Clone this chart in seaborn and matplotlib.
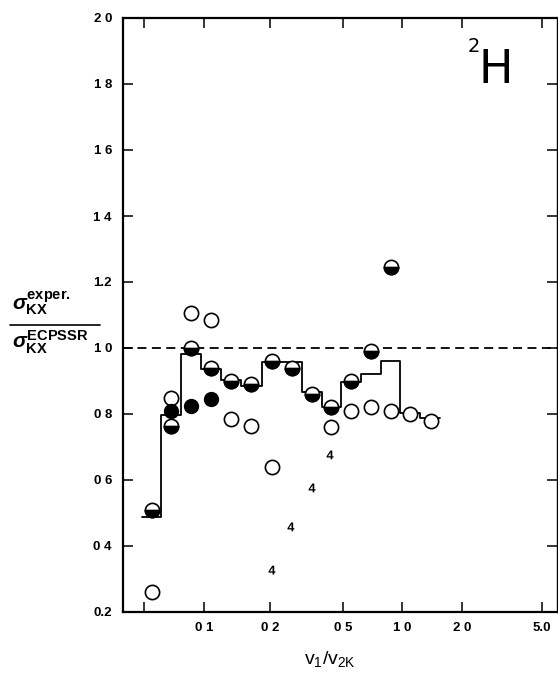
import numpy as np
import pandas as pd
import matplotlib
matplotlib.use("Agg")
import matplotlib.pyplot as plt
from matplotlib.markers import MarkerStyle
from matplotlib.lines import Line2D
from matplotlib.ticker import FixedLocator, FixedFormatter, NullFormatter
import seaborn as sns

# data ---------------------------------------------------------------
open_x = [0.0548, 0.0683, 0.0860, 0.1076, 0.1328, 0.1638, 0.205, 0.430, 0.548, 0.695, 0.879, 1.097, 1.398]
open_y = [0.26, 0.85, 1.105, 1.085, 0.785, 0.765, 0.64, 0.76, 0.81, 0.82, 0.81, 0.80, 0.78]

full_x = [0.0683, 0.0860, 0.1076]
full_y = [0.81, 0.825, 0.845]

half_x = [0.0548, 0.0683, 0.0860, 0.1076, 0.1328, 0.1638, 0.205, 0.2636, 0.339, 0.430, 0.548, 0.695, 0.879]
half_y = [0.51, 0.765, 1.0, 0.94, 0.90, 0.89, 0.96, 0.94, 0.86, 0.82, 0.90, 0.99, 1.245]

four_x = [0.205, 0.260, 0.339, 0.425]
four_y = [0.327, 0.458, 0.576, 0.676]

# ECPSSR-like step curve: bin edges and level in each bin
step_edges = [0.0488, 0.0609, 0.0767, 0.0966, 0.1196, 0.1475, 0.184, 0.299, 0.384, 0.488,
              0.618, 0.781, 0.977, 1.231, 1.551]
step_vals = [0.488, 0.797, 0.982, 0.936, 0.903, 0.885, 0.957, 0.867, 0.821, 0.897,
             0.922, 0.961, 0.803, 0.788]

xtick_vals = [0.05, 0.1, 0.2, 0.5, 1.0, 2.0, 5.0]
xtick_labels = ["", "0 1", "0 2", "0 5", "1 0", "2 0", "5.0"]
ytick_vals = [0.2, 0.4, 0.6, 0.8, 1.0, 1.2, 1.4, 1.6, 1.8, 2.0]
ytick_labels = ["0.2", "0 4", "0 6", "0 8", "1 0", "1.2", "1 4", "1 6", "1 8", "2 0"]

# the printed x axis is an uneven log axis: map log(value) -> position piecewise
LT = np.log10(xtick_vals)
LP = np.array([144, 204, 270, 343, 402, 462, 542], dtype=float)


def _fwd(x):
    x = np.asarray(x, dtype=float)
    lx = np.log10(np.where(x > 0, x, 1e-9))
    out = np.interp(lx, LT, LP)
    s0 = (LP[1] - LP[0]) / (LT[1] - LT[0])
    s1 = (LP[-1] - LP[-2]) / (LT[-1] - LT[-2])
    out = np.where(lx < LT[0], LP[0] + (lx - LT[0]) * s0, out)
    out = np.where(lx > LT[-1], LP[-1] + (lx - LT[-1]) * s1, out)
    return out


def _inv(p):
    p = np.asarray(p, dtype=float)
    out = np.interp(p, LP, LT)
    s0 = (LT[1] - LT[0]) / (LP[1] - LP[0])
    s1 = (LT[-1] - LT[-2]) / (LP[-1] - LP[-2])
    out = np.where(p < LP[0], LT[0] + (p - LP[0]) * s0, out)
    out = np.where(p > LP[-1], LT[-1] + (p - LP[-1]) * s1, out)
    return 10 ** out


# style ------------------------------------------------------------------
sns.set_theme(style="ticks")
plt.rcParams["font.family"] = ["Liberation Sans", "DejaVu Sans"]
plt.rcParams["mathtext.fontset"] = "custom"
plt.rcParams["mathtext.rm"] = "Liberation Sans:bold"
plt.rcParams["mathtext.it"] = "Liberation Sans:italic:bold"
plt.rcParams["mathtext.bf"] = "Liberation Sans:bold"
plt.rcParams["mathtext.sf"] = "Liberation Sans"

fig = plt.figure(figsize=(5.58, 6.73), dpi=100)
ax = fig.add_axes([123 / 558, 61 / 673, 434 / 558, 594 / 673])
ax.set_xscale("function", functions=(_fwd, _inv))

# plot -------------------------------------------------------------------
step_df = pd.DataFrame({"x": step_edges, "y": step_vals + [step_vals[-1]]})
sns.lineplot(data=step_df, x="x", y="y", drawstyle="steps-post", estimator=None,
             color="black", linewidth=1.3, ax=ax, zorder=2)
ax.axhline(1.0, color="black", linewidth=1.3, linestyle=(0, (5, 3)), zorder=1)

sns.scatterplot(x=open_x, y=open_y, marker="o", s=105, facecolor="white",
                edgecolor="black", linewidth=1.2, ax=ax, zorder=3)
sns.scatterplot(x=full_x, y=full_y, marker="o", s=100, color="black",
                edgecolor="black", linewidth=1.0, ax=ax, zorder=3)
sns.scatterplot(x=half_x, y=half_y, marker="o", s=105, facecolor="white",
                edgecolor="black", linewidth=1.2, ax=ax, zorder=3)
sns.scatterplot(x=half_x, y=half_y, marker=MarkerStyle("o", fillstyle="bottom"), s=105,
                color="black", edgecolor="black", linewidth=1.2, ax=ax, zorder=4)
sns.scatterplot(x=four_x, y=four_y, marker=r"$\mathbf{4}$", s=40, color="black",
                edgecolor="none", linewidth=0, ax=ax, zorder=3)

# axes -------------------------------------------------------------------
ax.set_xlim(float(_inv(123)), float(_inv(557)))
ax.set_ylim(0.2, 2.0)
ax.xaxis.set_major_locator(FixedLocator(xtick_vals))
ax.xaxis.set_major_formatter(FixedFormatter(xtick_labels))
ax.xaxis.set_minor_locator(FixedLocator([0.1, 1.0]))
ax.xaxis.set_minor_formatter(NullFormatter())
ax.set_yticks(ytick_vals, ytick_labels)
ax.tick_params(axis="both", which="major", direction="in", top=True, right=True,
               length=7, width=1.1, labelsize=9.5, colors="black")
ax.tick_params(axis="x", which="minor", direction="in", top=True, length=13, width=1.1)
ax.tick_params(axis="x", which="major", pad=7)
ax.tick_params(axis="y", which="major", pad=8)
for lab in ax.get_xticklabels() + ax.get_yticklabels():
    lab.set_fontweight("bold")
for sp in ax.spines.values():
    sp.set_visible(True)
    sp.set_linewidth(1.6)
    sp.set_color("black")
ax.spines["right"].set_linewidth(1.0)

ax.set_xlabel(r"$\mathsf{v_1/v_{2K}}$", fontsize=14, color="black")
ax.xaxis.set_label_coords((330 - 123) / 434, -0.062)
ax.set_ylabel("")

# y label as a fraction
fig.text(12 / 558, 1 - 303 / 673, r"$\sigma_{\mathrm{KX}}^{\mathrm{exper.}}$", fontsize=15,
         ha="left", va="center", color="black")
fig.text(12 / 558, 1 - 342 / 673, r"$\sigma_{\mathrm{KX}}^{\mathrm{ECPSSR}}$", fontsize=15,
         ha="left", va="center", color="black")
fig.add_artist(Line2D([10 / 558, 100 / 558], [1 - 325 / 673, 1 - 325 / 673],
                      color="black", linewidth=1.2, transform=fig.transFigure))

# nucleus label
ax.text(0.795, 0.943, "2", transform=ax.transAxes, fontsize=14,
        ha="left", va="baseline", family="DejaVu Sans", color="black")
ax.text(0.858, 0.8906, "H", transform=ax.transAxes, fontsize=33,
        ha="center", va="baseline", family="DejaVu Sans", color="black")

fig.savefig("out.png", dpi=100, facecolor="white")
